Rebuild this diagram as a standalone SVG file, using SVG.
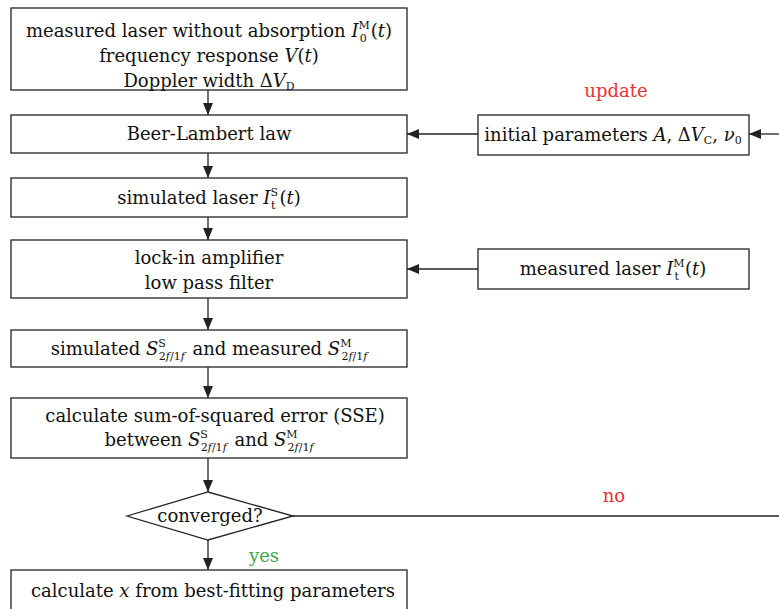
<svg xmlns="http://www.w3.org/2000/svg" width="779" height="609" viewBox="0 0 779 609">
<defs>
<marker id="ah" markerWidth="12" markerHeight="10" refX="12" refY="5" orient="auto" markerUnits="userSpaceOnUse"><path d="M0,0 L12,5 L0,10 Z" fill="#222"/></marker>
<style>
.box{fill:#fff;stroke:#222;stroke-width:1.3}
.t{font-family:"DejaVu Serif","Liberation Serif",serif;font-size:18px;fill:#111;text-anchor:middle}
.i{font-style:italic}
.s{font-size:11px}
.c{stroke:#222;stroke-width:1.3;fill:none}
.red{fill:#f03030}
.grn{fill:#3aaa50}
</style>
</defs>
<rect width="779" height="609" fill="#fff"/>
<g id="connectors">
<line class="c" x1="208" y1="90" x2="208" y2="115" marker-end="url(#ah)"/>
<line class="c" x1="208" y1="153" x2="208" y2="178" marker-end="url(#ah)"/>
<line class="c" x1="208" y1="217" x2="208" y2="240" marker-end="url(#ah)"/>
<line class="c" x1="208" y1="298" x2="208" y2="330" marker-end="url(#ah)"/>
<line class="c" x1="208" y1="367" x2="208" y2="398" marker-end="url(#ah)"/>
<line class="c" x1="208" y1="458" x2="208" y2="492" marker-end="url(#ah)"/>
<line class="c" x1="208" y1="540" x2="208" y2="570" marker-end="url(#ah)"/>
<line class="c" x1="478" y1="134" x2="407" y2="134" marker-end="url(#ah)"/>
<line class="c" x1="478" y1="269" x2="407" y2="269" marker-end="url(#ah)"/>
<line class="c" x1="779" y1="134" x2="749" y2="134" marker-end="url(#ah)"/>
<line class="c" x1="293" y1="516" x2="779" y2="516"/>
<text class="t red" x="616" y="97">update</text>
<text class="t red" x="614" y="502">no</text>
<text class="t grn" x="264" y="562">yes</text>
</g>
<g id="n1">
<rect class="box" x="11" y="8" width="396" height="82"/>
<text class="t" x="209" y="37">measured laser without absorption <tspan class="i">I</tspan><tspan class="s" dy="-8.5">M</tspan><tspan class="s" dx="-10" dy="13.5">0</tspan><tspan dx="4" dy="-5">(</tspan><tspan class="i">t</tspan>)</text>
<text class="t" x="209" y="62">frequency response <tspan class="i">V</tspan>(<tspan class="i">t</tspan>)</text>
<text class="t" x="209" y="87">Doppler width Δ<tspan class="i">V</tspan><tspan class="s" dy="3">D</tspan></text>
</g>
<g id="n2">
<rect class="box" x="11" y="115" width="396" height="38"/>
<text class="t" x="209" y="140">Beer-Lambert law</text>
</g>
<g id="n3">
<rect class="box" x="11" y="178" width="396" height="39"/>
<text class="t" x="209" y="204">simulated laser <tspan class="i">I</tspan><tspan class="s" dy="-8.5">S</tspan><tspan class="s" dx="-7" dy="13.5">t</tspan><tspan dx="4" dy="-5">(</tspan><tspan class="i">t</tspan>)</text>
</g>
<g id="n4">
<rect class="box" x="11" y="240" width="396" height="58"/>
<text class="t" x="209" y="264">lock-in amplifier</text>
<text class="t" x="209" y="289">low pass filter</text>
</g>
<g id="n5">
<rect class="box" x="11" y="330" width="396" height="37"/>
<text class="t" x="209" y="355">simulated <tspan class="i">S</tspan><tspan class="s" dy="-8.5">S</tspan><tspan class="s" dx="-7" dy="13.5">2<tspan class="i">f</tspan>/1<tspan class="i">f</tspan></tspan><tspan dx="2" dy="-5"> and measured </tspan><tspan class="i">S</tspan><tspan class="s" dy="-8.5">M</tspan><tspan class="s" dx="-10" dy="13.5">2<tspan class="i">f</tspan>/1<tspan class="i">f</tspan></tspan></text>
</g>
<g id="n6">
<rect class="box" x="11" y="398" width="396" height="60"/>
<text class="t" x="215" y="422">calculate sum-of-squared error (SSE)</text>
<text class="t" x="209" y="446">between <tspan class="i">S</tspan><tspan class="s" dy="-8.5">S</tspan><tspan class="s" dx="-7" dy="13.5">2<tspan class="i">f</tspan>/1<tspan class="i">f</tspan></tspan><tspan dx="2" dy="-5"> and </tspan><tspan class="i">S</tspan><tspan class="s" dy="-8.5">M</tspan><tspan class="s" dx="-10" dy="13.5">2<tspan class="i">f</tspan>/1<tspan class="i">f</tspan></tspan></text>
</g>
<g id="n7">
<path class="box" d="M127,516 L208,492 L293,516 L208,540 Z"/>
<text class="t" x="210" y="522">converged?</text>
</g>
<g id="n8">
<rect class="box" x="11" y="570" width="396" height="45"/>
<text class="t" x="213" y="597">calculate <tspan class="i">x</tspan> from best-fitting parameters</text>
</g>
<g id="n9">
<rect class="box" x="478" y="115" width="271" height="40"/>
<text class="t" x="613" y="141">initial parameters <tspan class="i">A</tspan>, Δ<tspan class="i">V</tspan><tspan class="s" dy="3">C</tspan><tspan dy="-3">, </tspan><tspan class="i">ν</tspan><tspan class="s" dy="3">0</tspan></text>
</g>
<g id="n10">
<rect class="box" x="478" y="249" width="271" height="40"/>
<text class="t" x="613" y="275">measured laser <tspan class="i">I</tspan><tspan class="s" dy="-8.5">M</tspan><tspan class="s" dx="-10" dy="13.5">t</tspan><tspan dx="6" dy="-5">(</tspan><tspan class="i">t</tspan>)</text>
</g>
</svg>
